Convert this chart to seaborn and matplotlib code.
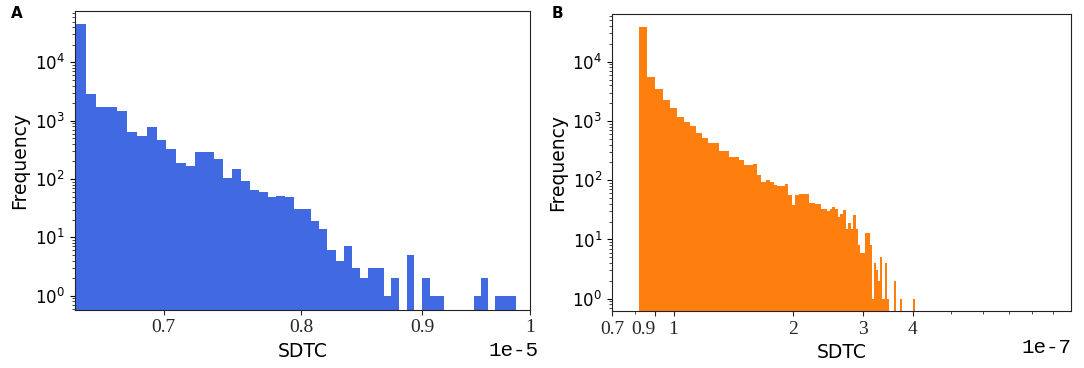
import numpy as np
import pandas as pd
import matplotlib
matplotlib.use("Agg")
import matplotlib.pyplot as plt
from matplotlib.ticker import FixedLocator, FixedFormatter, NullLocator, NullFormatter
import seaborn as sns

# Panel A: SDTC histogram, 52 equal-width bins, x in units of 1e-5
a_lo, a_hi = 0.6424, 0.9859
a_counts = [44800, 2830, 1734, 1734, 1482, 647, 552, 769, 472, 323,
            188, 165, 290, 290, 220, 103, 148, 93, 64, 61,
            49, 51, 49, 31, 31, 19, 14, 6, 4, 7,
            3, 2, 3, 3, 1, 2, 0, 5, 0, 2,
            1, 1, 0, 0, 0, 0, 1, 2, 0, 1,
            1, 1]
a_ticks = [0.7, 0.8, 0.9, 1.0]
a_ticklabels = ["0.7", "0.8", "0.9", "1"]

# Panel B: SDTC histogram, 80 equal-width bins, x in units of 1e-7
b_lo, b_hi = 0.8186, 4.039
b_counts = [38200, 5610, 3480, 2270, 1645, 1190, 980, 830, 625, 513,
            433, 433, 317, 317, 245, 245, 220, 182, 182, 190,
            124, 93, 102, 92, 83, 80, 80, 86, 57, 38,
            57, 59, 59, 59, 42, 42, 40, 40, 33, 33,
            30, 33, 35, 33, 24, 27, 32, 15, 19, 15,
            26, 15, 8, 6, 6, 13, 13, 8, 1, 4,
            3, 2, 5, 1, 4, 1, 0, 0, 0, 2,
            0, 0, 1, 0, 0, 0, 0, 0, 0, 1]
b_ticks = [0.7, 0.9, 1, 2, 3, 4]
b_ticklabels = ["0.7", "0.9", "1", "2", "3", "4"]
b_minor = [0.8, 5, 6, 7, 8, 9]

sns.set_style("ticks")
plt.rcParams["font.family"] = ["DejaVu Sans"]
plt.rcParams["axes.edgecolor"] = "#222222"
plt.rcParams["text.color"] = "black"
plt.rcParams["axes.labelcolor"] = "black"


def draw_hist(ax, counts, lo, hi, unit, color, xlim, ylim):
    edges = np.linspace(lo, hi, len(counts) + 1) * unit
    df = pd.DataFrame({"sdtc": (edges[:-1] + edges[1:]) / 2, "n": counts})
    sns.histplot(data=df, x="sdtc", weights="n", bins=edges.tolist(), color=color,
                 alpha=1, linewidth=0, ax=ax)
    ax.set_xscale("log")
    ax.set_yscale("log")
    ax.set_xlim(xlim)
    ax.set_ylim(ylim)
    ax.set_xlabel("SDTC", fontsize=13.5)
    ax.set_ylabel("Frequency", fontsize=13.5)
    ax.tick_params(axis="y", labelsize=12, colors="black")
    ax.tick_params(axis="x", labelsize=14, labelfontfamily="Liberation Serif")


fig = plt.figure(figsize=(10.84, 3.68), dpi=100)

# A
ax1 = fig.add_axes([74.5 / 1084, 1 - 309.5 / 368, 455.8 / 1084, 298.5 / 368])
draw_hist(ax1, a_counts, a_lo, a_hi, 1e-5, "royalblue",
          (0.6418e-5, 1.0e-5), (0.58, 75700))
ax1.xaxis.set_major_locator(FixedLocator([t * 1e-5 for t in a_ticks]))
ax1.xaxis.set_major_formatter(FixedFormatter(a_ticklabels))
ax1.xaxis.set_minor_locator(NullLocator())
ax1.xaxis.set_minor_formatter(NullFormatter())
ax1.text(1.017, -0.136, "1e-5", transform=ax1.transAxes, ha="right", va="center",
         family="Liberation Mono", fontsize=15)

# B
ax2 = fig.add_axes([612 / 1084, 1 - 311 / 368, 459 / 1084, 297 / 368])
draw_hist(ax2, b_counts, b_lo, b_hi, 1e-7, "#ff7f0e",
          (0.7e-7, 1.0e-6), (0.62, 64000))
ax2.xaxis.set_major_locator(FixedLocator([t * 1e-7 for t in b_ticks]))
ax2.xaxis.set_major_formatter(FixedFormatter(b_ticklabels))
ax2.xaxis.set_minor_locator(FixedLocator([t * 1e-7 for t in b_minor]))
ax2.xaxis.set_minor_formatter(NullFormatter())
for lab in ax2.get_xticklabels():
    if lab.get_text() == "0.9":
        lab.set_ha("right")
ax2.text(1.0, -0.123, "1e-7", transform=ax2.transAxes, ha="right", va="center",
         family="Liberation Mono", fontsize=15)

fig.text(17 / 1084, 1 - 13 / 368, "A", fontsize=11, fontweight="bold", ha="center", va="center")
fig.text(557 / 1084, 1 - 13 / 368, "B", fontsize=11, fontweight="bold", ha="center", va="center")

fig.savefig("out.png", dpi=100)
